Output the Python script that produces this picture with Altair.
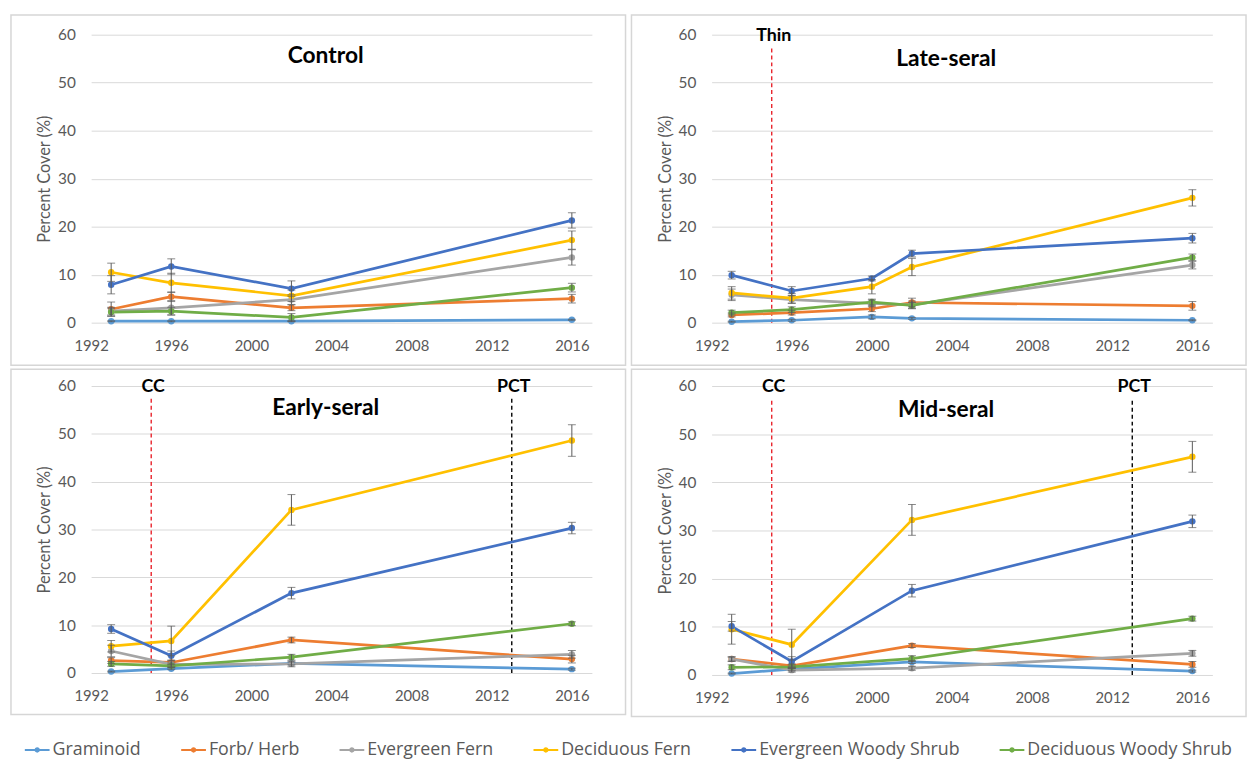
import altair as alt
import pandas as pd

SERIES = ["Graminoid", "Forb/ Herb", "Evergreen Fern", "Deciduous Fern",
          "Evergreen Woody Shrub", "Deciduous Woody Shrub"]
COLORS = ["#5B9BD5", "#ED7D31", "#A5A5A5", "#FFC000", "#4472C4", "#70AD47"]
X_TICKS = [1992, 1996, 2000, 2004, 2008, 2012, 2016]
Y_TICKS = [0, 10, 20, 30, 40, 50, 60]

# ---------------- Control ----------------
CONTROL_YEARS = [1993, 1996, 2002, 2016]
CONTROL_MEAN = {
    "Graminoid": [0.3, 0.3, 0.3, 0.6],
    "Forb/ Herb": [2.8, 5.4, 3.1, 5.0],
    "Evergreen Fern": [2.4, 3.1, 4.8, 13.6],
    "Deciduous Fern": [10.5, 8.3, 5.6, 17.2],
    "Evergreen Woody Shrub": [7.9, 11.7, 7.1, 21.3],
    "Deciduous Woody Shrub": [2.2, 2.4, 1.1, 7.3],
}
CONTROL_ERR = {
    "Graminoid": [0.1, 0.1, 0.1, 0.1],
    "Forb/ Herb": [1.5, 1.0, 0.6, 0.9],
    "Evergreen Fern": [0.8, 1.5, 1.0, 1.6],
    "Deciduous Fern": [1.9, 2.0, 1.2, 1.9],
    "Evergreen Woody Shrub": [1.9, 1.6, 1.6, 1.6],
    "Deciduous Woody Shrub": [0.8, 0.8, 0.8, 0.9],
}

# ---------------- Late-seral ----------------
LATE_YEARS = [1993, 1996, 2000, 2002, 2016]
LATE_MEAN = {
    "Graminoid": [0.2, 0.5, 1.2, 0.9, 0.5],
    "Forb/ Herb": [1.6, 2.1, 2.9, 4.2, 3.5],
    "Evergreen Fern": [5.8, 4.8, 4.0, 3.7, 12.0],
    "Deciduous Fern": [6.2, 5.1, 7.5, 11.6, 26.0],
    "Evergreen Woody Shrub": [9.9, 6.6, 9.2, 14.4, 17.6],
    "Deciduous Woody Shrub": [2.1, 2.7, 4.3, 3.6, 13.6],
}
LATE_ERR = {
    "Graminoid": [0.1, 0.2, 0.4, 0.2, 0.1],
    "Forb/ Herb": [0.4, 0.5, 0.6, 0.9, 0.9],
    "Evergreen Fern": [1.2, 0.8, 0.7, 0.8, 0.8],
    "Deciduous Fern": [1.3, 1.0, 1.5, 1.8, 1.7],
    "Evergreen Woody Shrub": [0.8, 0.9, 0.5, 0.7, 1.0],
    "Deciduous Woody Shrub": [0.5, 0.6, 0.6, 0.6, 0.7],
}

# ---------------- Early-seral ----------------
EARLY_YEARS = [1993, 1996, 2002, 2016]
EARLY_MEAN = {
    "Graminoid": [0.3, 0.9, 2.0, 0.8],
    "Forb/ Herb": [2.6, 2.2, 6.9, 2.9],
    "Evergreen Fern": [4.6, 1.8, 1.9, 3.9],
    "Deciduous Fern": [5.6, 6.7, 34.1, 48.6],
    "Evergreen Woody Shrub": [9.2, 3.6, 16.7, 30.3],
    "Deciduous Woody Shrub": [1.9, 1.5, 3.3, 10.3],
}
EARLY_ERR = {
    "Graminoid": [0.1, 0.2, 0.3, 0.2],
    "Forb/ Herb": [0.6, 0.5, 0.6, 0.8],
    "Evergreen Fern": [1.2, 0.5, 0.6, 0.8],
    "Deciduous Fern": [1.2, 3.1, 3.2, 3.3],
    "Evergreen Woody Shrub": [0.9, 1.0, 1.2, 1.2],
    "Deciduous Woody Shrub": [0.5, 0.4, 0.6, 0.4],
}

# ---------------- Mid-seral ----------------
MID_YEARS = [1993, 1996, 2002, 2016]
MID_MEAN = {
    "Graminoid": [0.3, 1.2, 2.7, 0.8],
    "Forb/ Herb": [3.3, 1.9, 6.1, 2.2],
    "Evergreen Fern": [3.3, 1.0, 1.4, 4.5],
    "Deciduous Fern": [9.5, 6.3, 32.2, 45.3],
    "Evergreen Woody Shrub": [10.1, 2.8, 17.5, 31.9],
    "Deciduous Woody Shrub": [1.6, 1.7, 3.4, 11.7],
}
MID_ERR = {
    "Graminoid": [0.1, 0.3, 0.3, 0.2],
    "Forb/ Herb": [0.5, 0.4, 0.4, 0.6],
    "Evergreen Fern": [0.4, 0.4, 0.4, 0.6],
    "Deciduous Fern": [3.1, 3.2, 3.2, 3.2],
    "Evergreen Woody Shrub": [1.0, 1.0, 1.3, 1.3],
    "Deciduous Woody Shrub": [0.5, 0.4, 0.6, 0.5],
}

# Treatment events (year, label)
LATE_EVENTS = [(1995, "Thin")]
EARLY_EVENTS = [(1995, "CC"), (2013, "PCT")]
MID_EVENTS = [(1995, "CC"), (2013, "PCT")]
EVENT_LABELS = ["Thin", "CC", "PCT"]
EVENT_COLORS = ["#E8232B", "#E8232B", "#000000"]

FONT = "Lato"
GRAY_TXT = "#595959"
W = 506

LEGEND = alt.Legend(
    title=None, orient="none", direction="horizontal",
    legendX=-68, legendY=709,
    labelFont="Open Sans", labelFontSize=18, labelColor=GRAY_TXT,
    labelLimit=400,
    symbolType="M-1,0L1,0M-0.14,0A0.14,0.14,0,1,1,0.14,0A0.14,0.14,0,1,1,-0.14,0Z",
    symbolSize=625, symbolStrokeWidth=2, labelOffset=2, columnPadding=36,
)


def build_df(years, means, errs):
    rows = []
    for s in SERIES:
        for yr, m, e in zip(years, means[s], errs[s]):
            rows.append({"series": s, "year": yr, "value": m,
                         "lo": m - e, "hi": m + e})
    return pd.DataFrame(rows)


def panel(title, years, means, errs, events, H, top, bottom, ty):
    df = build_df(years, means, errs)
    base = alt.Chart(df)
    xs = alt.Scale(domain=[1992, 2017], nice=False, zero=False)
    ys = alt.Scale(domain=[0, 60], nice=False)
    x = alt.X("year:Q", scale=xs, title=None,
              axis=alt.Axis(values=X_TICKS, format="d", grid=False, ticks=False,
                            tickSize=0, domain=False, labelPadding=16,
                            labelFont=FONT, labelFontSize=15,
                            labelColor=GRAY_TXT, labelFlush=False))
    ytitle = "Percent Cover (%)"
    y = alt.Y("value:Q", scale=ys, title=ytitle,
              axis=alt.Axis(values=Y_TICKS, grid=True, gridColor="#d9d9d9",
                            gridWidth=1, ticks=False, tickSize=0, domain=False,
                            labelPadding=16, labelFont=FONT, labelFontSize=15.5,
                            labelColor=GRAY_TXT, titleFont=FONT,
                            titleFontSize=16.5, titleFontWeight="normal",
                            titleColor=GRAY_TXT, titlePadding=5))
    color = alt.Color("series:N", scale=alt.Scale(domain=SERIES, range=COLORS),
                      legend=LEGEND)

    border = alt.Chart(pd.DataFrame({"k": [0]})).mark_rect(
        fillOpacity=0, stroke="#d6d6d6", strokeWidth=1.5
    ).encode(x=alt.value(-81), x2=alt.value(540),
             y=alt.value(top), y2=alt.value(bottom))

    layers = [border]

    if events:
        ev = pd.DataFrame({"year": [e[0] for e in events],
                           "label": [e[1] for e in events]})
        ev_base = alt.Chart(ev)
        stroke_scale = alt.Scale(domain=EVENT_LABELS, range=EVENT_COLORS)
        rules = ev_base.mark_rule(strokeDash=[4, 3], strokeWidth=1.4).encode(
            x=alt.X("year:Q", scale=xs, title=None),
            y=alt.datum(0), y2=alt.datum(57.5),
            stroke=alt.Stroke("label:N", scale=stroke_scale, legend=None),
        )
        texts = ev_base.mark_text(font=FONT, fontSize=18, fontWeight="bold",
                                  color="#000000", baseline="alphabetic",
                                  dy=6, dx=2).encode(
            x=alt.X("year:Q", scale=xs, title=None),
            y=alt.datum(60), text="label:N")
        layers += [rules, texts]

    ttl = alt.Chart(pd.DataFrame({"t": [title]})).mark_text(
        font=FONT, fontSize=23, fontWeight="bold", color="#000000"
    ).encode(x=alt.value(237), y=alt.value(ty), text="t:N")

    lines = base.mark_line(strokeWidth=2.75).encode(x=x, y=y, color=color)
    stems = base.mark_rule(color="#595959", strokeWidth=1).encode(
        x=alt.X("year:Q", scale=xs, title=None),
        y=alt.Y("lo:Q", scale=ys, title=ytitle), y2="hi:Q")
    cap_hi = base.mark_tick(orient="horizontal", size=8, thickness=1,
                            color="#595959").encode(
        x=alt.X("year:Q", scale=xs, title=None),
        y=alt.Y("hi:Q", scale=ys, title=ytitle))
    cap_lo = base.mark_tick(orient="horizontal", size=8, thickness=1,
                            color="#595959").encode(
        x=alt.X("year:Q", scale=xs, title=None),
        y=alt.Y("lo:Q", scale=ys, title=ytitle))
    pts = base.mark_circle(size=42, opacity=1).encode(x=x, y=y, color=color)

    layers += [ttl, lines, pts, stems, cap_hi, cap_lo]
    return alt.layer(*layers).properties(width=W, height=H)


p1 = panel("Control", CONTROL_YEARS, CONTROL_MEAN, CONTROL_ERR, [], 291, -20, 334, 22)
p2 = panel("Late-seral", LATE_YEARS, LATE_MEAN, LATE_ERR, LATE_EVENTS, 291, -20, 334, 25)
p3 = panel("Early-seral", EARLY_YEARS, EARLY_MEAN, EARLY_ERR, EARLY_EVENTS, 290, -17, 332, 22)
p4 = panel("Mid-seral", MID_YEARS, MID_MEAN, MID_ERR, MID_EVENTS, 292, -17, 334, 24)

chart = alt.vconcat(
    alt.hconcat(p1, p2, spacing=2),
    alt.hconcat(p3, p4, spacing=2),
    spacing=0,
).properties(padding=1, background="white").configure_view(
    stroke="transparent"
)

chart.save("out.html", embed_options={"renderer": "svg", "actions": False})
